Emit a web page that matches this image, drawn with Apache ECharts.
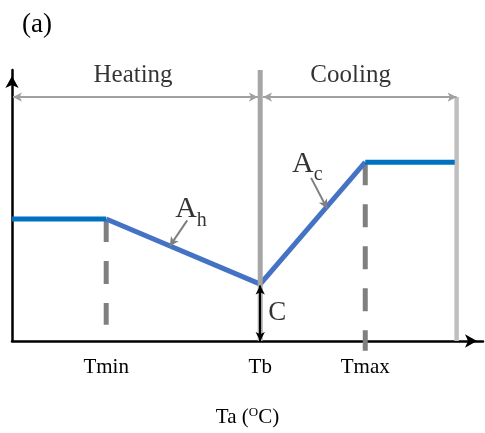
<!DOCTYPE html>
<html><head><meta charset="utf-8">
<script src="https://cdn.jsdelivr.net/npm/echarts@6/dist/echarts.min.js"></script>
<style>html,body{margin:0;padding:0;background:#fff}#c{width:485px;height:433px}</style>
</head><body><div id="c"></div>
<script>
// ---- data ----
const tickValues = [20, 52.7, 75];
const tickLabels = ['Tmin', 'Tb', 'Tmax'];
const curveX = [0, 20, 52.7, 75, 94];
const curveY = [45, 45, 21, 66, 66];
const regionEndX = 94.4;
const regionArrowY = 90;
const tbLineTop = 100;
const tminDashBottom = 6;
const tmaxDashBottom = -3.6;
const cArrowTop = 20.5;

const FONT = "'Times New Roman', 'Liberation Serif', serif";
const seg = i => [[curveX[i], curveY[i]], [curveX[i + 1], curveY[i + 1]]];
const flatBlue = '#0070c0', slopeBlue = '#4472c4';

function lineSeries(data, color, width, type, extra) {
  return Object.assign({
    type: 'line', data, symbol: 'none', silent: true, animation: false,
    lineStyle: { color, width, type: type || 'solid' }
  }, extra || {});
}
function arrowSeries(from, to, color, width, symbols, size) {
  return {
    type: 'line', data: [], silent: true, animation: false,
    markLine: {
      silent: true, animation: false, symbol: symbols, symbolSize: size,
      label: { show: false }, emphasis: { disabled: true },
      lineStyle: { color, width, type: 'solid' },
      data: [[{ coord: from }, { coord: to }]]
    }
  };
}

const chart = echarts.init(document.getElementById('c'), null, { renderer: 'canvas' });
chart.setOption({
  animation: false,
  title: { text: '(a)', left: 22, top: 11, padding: 0,
    textStyle: { fontFamily: FONT, fontSize: 27, fontWeight: 'normal', color: '#000' } },
  grid: { left: 12, right: 2, top: 70, bottom: 89 },
  xAxis: {
    type: 'value', min: 0, max: 100,
    axisLine: { show: true, lineStyle: { color: '#000', width: 2.5 },
      symbol: ['none', 'arrow'], symbolSize: [10, 12], symbolOffset: [0, -6] },
    axisTick: { show: false }, splitLine: { show: false },
    axisLabel: {
      customValues: tickValues,
      formatter: v => { const i = tickValues.findIndex(t => Math.abs(t - v) < 1e-6); return i >= 0 ? tickLabels[i] : ''; },
      fontFamily: FONT, fontSize: 21, color: '#000', margin: 16
    },
    name: '{n|Ta (}{s|O}{n|C)}', nameLocation: 'middle', nameGap: 65,
    nameTextStyle: { fontFamily: FONT, fontSize: 21, color: '#000',
      rich: { n: { fontFamily: FONT, fontSize: 21, color: '#000' },
              s: { fontFamily: FONT, fontSize: 13, color: '#000', verticalAlign: 'top', padding: [0, 0, 10, 0] } } }
  },
  yAxis: {
    type: 'value', min: 0, max: 100,
    axisLine: { show: true, lineStyle: { color: '#000', width: 2.5 },
      symbol: ['none', 'arrow'], symbolSize: [10, 12], symbolOffset: [0, -6] },
    axisTick: { show: false }, splitLine: { show: false }, axisLabel: { show: false }
  },
  series: [
    lineSeries([[tickValues[0], curveY[1]], [tickValues[0], tminDashBottom]], '#7f7f7f', 5, [23, 19]),
    lineSeries([[tickValues[2], curveY[3]], [tickValues[2], tmaxDashBottom]], '#7f7f7f', 5, [23, 19], { clip: false }),
    lineSeries([[regionEndX, regionArrowY], [regionEndX, 0]], '#bfbfbf', 4.5),
    lineSeries(seg(0), flatBlue, 5),
    lineSeries(seg(1), slopeBlue, 5),
    lineSeries(seg(2), slopeBlue, 5),
    lineSeries(seg(3), flatBlue, 5),
    lineSeries([[tickValues[1], tbLineTop], [tickValues[1], 0]], '#a6a6a6', 5, 'solid', { clip: false }),
    arrowSeries([0.2, regionArrowY], [52.2, regionArrowY], '#a0a0a0', 2, ['arrow', 'arrow'], [7, 9]),
    arrowSeries([53.3, regionArrowY], [regionEndX, regionArrowY], '#a0a0a0', 2, ['arrow', 'arrow'], [7, 9]),
    arrowSeries([tickValues[1], cArrowTop], [tickValues[1], 0], '#000', 2, ['arrow', 'arrow'], [7, 9]),
    arrowSeries([37.2, 44.5], [33.5, 35], '#808080', 2, ['none', 'arrow'], [7, 9]),
    arrowSeries([63.5, 60.2], [66.9, 48.9], '#808080', 2, ['none', 'arrow'], [7, 9]),
    {
      type: 'scatter', symbolSize: 0, silent: true, animation: false, clip: false,
      label: { show: true, position: 'inside', fontFamily: FONT, color: '#000' },
      data: [
        { value: [25.7, 98.0], label: { formatter: 'Heating', fontSize: 25, color: '#000' } },
        { value: [71.9, 98.0], label: { formatter: 'Cooling', fontSize: 25, color: '#000' } },
        { value: [56.3, 10.2], label: { formatter: 'C', fontSize: 27, color: '#000' } },
        { value: [38.0, 47.4], label: { formatter: '{a|A}{s|h}',
          rich: { a: { fontFamily: FONT, fontSize: 30, color: '#000', verticalAlign: 'top' },
                  s: { fontFamily: FONT, fontSize: 20, color: '#000', verticalAlign: 'bottom', padding: [16, 0, 0, 0] } } } },
        { value: [62.7, 64.2], label: { formatter: '{a|A}{s|c}',
          rich: { a: { fontFamily: FONT, fontSize: 30, color: '#000', verticalAlign: 'top' },
                  s: { fontFamily: FONT, fontSize: 20, color: '#000', verticalAlign: 'bottom', padding: [16, 0, 0, 0] } } } }
      ]
    }
  ]
});
</script></body></html>
